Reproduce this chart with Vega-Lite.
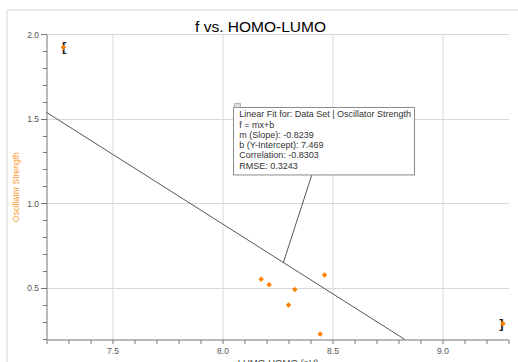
{
  "$schema": "https://vega.github.io/schema/vega-lite/v6.json",
  "width": 462,
  "height": 305.5,
  "autosize": {"type": "none"},
  "padding": {"left": 46.5, "top": 34, "right": 9.5, "bottom": 22.5},
  "background": "white",
  "config": {"view": {"stroke": null}, "font": "Liberation Sans"},
  "title": {"text": "f vs. HOMO-LUMO", "fontSize": 15.5, "fontWeight": "normal", "color": "#000000", "anchor": "middle", "frame": "group", "dx": -17, "baseline": "alphabetic", "offset": -38},
  "resolve": {"axis": {"x": "independent", "y": "independent"}},
  "datasets": {
    "points": [
      {"gap": 7.277, "f": 1.921},
      {"gap": 8.176, "f": 0.551},
      {"gap": 8.212, "f": 0.519},
      {"gap": 8.329, "f": 0.490},
      {"gap": 8.300, "f": 0.399},
      {"gap": 8.444, "f": 0.228},
      {"gap": 8.464, "f": 0.576},
      {"gap": 9.275, "f": 0.289}
    ],
    "fit": [
      {"gap": 7.2, "f": 1.537},
      {"gap": 8.829, "f": 0.195}
    ],
    "frame": [
      {"gap": 7.021, "gap2": 7.021, "f": 2.142, "f2": -1.0},
      {"gap": 7.021, "gap2": 10.0, "f": 2.142, "f2": 2.142}
    ],
    "connector": [
      {"gap": 8.406, "gap2": 8.277, "f": 1.167, "f2": 0.6515}
    ],
    "box": [
      {"gap": 8.05, "gap2": 8.8727, "f": 1.1672, "f2": 1.5659}
    ],
    "icon": [
      {"gap": 8.0545, "gap2": 8.0818, "f": 1.5659, "f2": 1.5895}
    ],
    "boxtext": [
      {"gap": 8.076, "f": 1.5257, "t": "Linear Fit for:  Data Set | Oscillator Strength"},
      {"gap": 8.076, "f": 1.4649, "t": "f = mx+b"},
      {"gap": 8.076, "f": 1.4041, "t": "m (Slope): -0.8239"},
      {"gap": 8.076, "f": 1.3432, "t": "b (Y-Intercept): 7.469"},
      {"gap": 8.076, "f": 1.2824, "t": "Correlation: -0.8303"},
      {"gap": 8.076, "f": 1.2215, "t": "RMSE: 0.3243"}
    ],
    "lbracket": [{"gap": 7.277, "f": 1.921, "b": "["}],
    "rbracket": [{"gap": 9.275, "f": 0.289, "b": "]"}]
  },
  "layer": [
    {
      "data": {"name": "points"},
      "mark": {"type": "point", "opacity": 0},
      "encoding": {
        "x": {
          "field": "gap", "type": "quantitative",
          "scale": {"domain": [7.2, 9.3], "nice": false, "zero": false},
          "axis": {
            "orient": "bottom",
            "values": [7.5, 8.0, 8.5, 9.0],
            "format": ".1f",
            "labelOverlap": false,
            "grid": true,
            "gridColor": "#d9d9d9",
            "tickSize": 4,
            "tickColor": "#777777",
            "domainColor": "#777777",
            "labelFontSize": 8.5,
            "labelColor": "#555555",
            "labelPadding": 3,
            "title": "LUMO-HOMO (eV)",
            "titleFontSize": 9.5,
            "titleFontWeight": "normal",
            "titleColor": "#444444",
            "titlePadding": 2
          }
        },
        "y": {
          "field": "f", "type": "quantitative",
          "scale": {"domain": [0.195, 2.0], "nice": false, "zero": false},
          "axis": {
            "orient": "left",
            "values": [0.5, 1.0, 1.5, 2.0],
            "format": ".1f",
            "labelOverlap": false,
            "grid": true,
            "gridColor": "#d9d9d9",
            "tickSize": 6,
            "tickColor": "#777777",
            "domainColor": "#777777",
            "labelFontSize": 8.5,
            "labelColor": "#555555",
            "labelPadding": 2,
            "title": "Oscillator Strength",
            "titleFontSize": 8.5,
            "titleFontWeight": "normal",
            "titleColor": "#ff9a2e",
            "titlePadding": 6
          }
        }
      }
    },
    {
      "data": {"name": "frame"},
      "mark": {"type": "rule", "color": "#d6d6d6", "strokeWidth": 1, "clip": false},
      "encoding": {
        "x": {
          "field": "gap", "type": "quantitative",
          "axis": {
            "orient": "bottom",
            "values": [7.2, 7.3, 7.4, 7.6, 7.7, 7.8, 7.9, 8.1, 8.2, 8.3, 8.4, 8.6, 8.7, 8.8, 8.9, 9.1, 9.2, 9.3],
            "labels": false, "grid": false, "domain": false, "title": null,
            "tickSize": 4, "tickColor": "#777777"
          }
        },
        "x2": {"field": "gap2"},
        "y": {
          "field": "f", "type": "quantitative",
          "axis": {
            "orient": "left",
            "values": [0.2, 0.3, 0.4, 0.6, 0.7, 0.8, 0.9, 1.1, 1.2, 1.3, 1.4, 1.6, 1.7, 1.8, 1.9],
            "labels": false, "grid": false, "domain": false, "title": null,
            "tickSize": 4, "tickColor": "#777777"
          }
        },
        "y2": {"field": "f2"}
      }
    },
    {
      "data": {"name": "fit"},
      "mark": {"type": "line", "color": "#555555", "strokeWidth": 1},
      "encoding": {
        "x": {"field": "gap", "type": "quantitative", "axis": null},
        "y": {"field": "f", "type": "quantitative", "axis": null}
      }
    },
    {
      "data": {"name": "connector"},
      "mark": {"type": "rule", "color": "#555555", "strokeWidth": 1},
      "encoding": {
        "x": {"field": "gap", "type": "quantitative", "axis": null},
        "x2": {"field": "gap2"},
        "y": {"field": "f", "type": "quantitative", "axis": null},
        "y2": {"field": "f2"}
      }
    },
    {
      "data": {"name": "lbracket"},
      "mark": {"type": "text", "align": "left", "baseline": "middle", "dx": -1.5, "dy": 0, "fontSize": 13, "fontWeight": "bold", "color": "#222222"},
      "encoding": {
        "x": {"field": "gap", "type": "quantitative", "axis": null},
        "y": {"field": "f", "type": "quantitative", "axis": null},
        "text": {"field": "b"}
      }
    },
    {
      "data": {"name": "rbracket"},
      "mark": {"type": "text", "align": "right", "baseline": "middle", "dx": 0.5, "dy": 0, "fontSize": 13, "fontWeight": "bold", "color": "#222222"},
      "encoding": {
        "x": {"field": "gap", "type": "quantitative", "axis": null},
        "y": {"field": "f", "type": "quantitative", "axis": null},
        "text": {"field": "b"}
      }
    },
    {
      "data": {"name": "points"},
      "mark": {"type": "point", "shape": "diamond", "filled": true, "size": 30, "color": "#ff8000", "opacity": 1},
      "encoding": {
        "x": {"field": "gap", "type": "quantitative", "axis": null},
        "y": {"field": "f", "type": "quantitative", "axis": null}
      }
    },
    {
      "data": {"name": "box"},
      "mark": {"type": "rect", "fill": "#ffffff", "stroke": "#8a8a8a", "strokeWidth": 1},
      "encoding": {
        "x": {"field": "gap", "type": "quantitative", "axis": null},
        "x2": {"field": "gap2"},
        "y": {"field": "f", "type": "quantitative", "axis": null},
        "y2": {"field": "f2"}
      }
    },
    {
      "data": {"name": "icon"},
      "mark": {"type": "rect", "fill": "#dddddd", "stroke": "#777777", "strokeWidth": 0.5},
      "encoding": {
        "x": {"field": "gap", "type": "quantitative", "axis": null},
        "x2": {"field": "gap2"},
        "y": {"field": "f", "type": "quantitative", "axis": null},
        "y2": {"field": "f2"}
      }
    },
    {
      "data": {"name": "boxtext"},
      "mark": {"type": "text", "align": "left", "baseline": "middle", "fontSize": 9, "color": "#333333"},
      "encoding": {
        "x": {"field": "gap", "type": "quantitative", "axis": null},
        "y": {"field": "f", "type": "quantitative", "axis": null},
        "text": {"field": "t"}
      }
    }
  ]
}
